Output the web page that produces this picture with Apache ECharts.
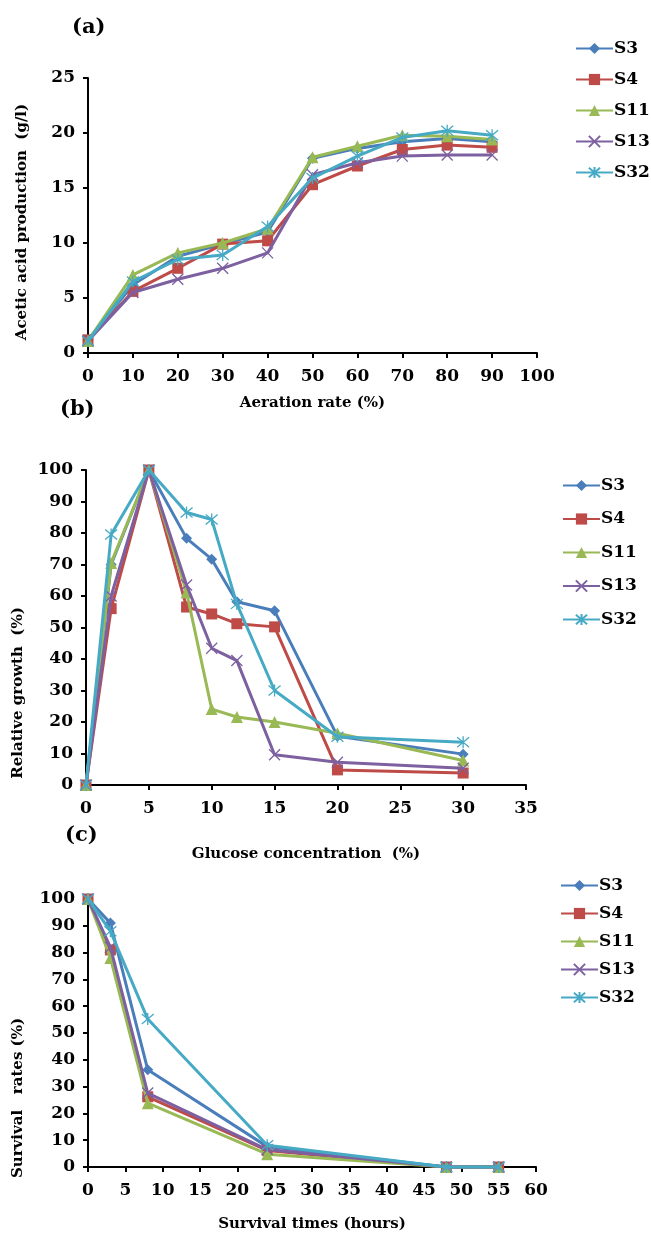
<!DOCTYPE html>
<html>
<head>
<meta charset='utf-8'>
<title>Acetic acid, glucose tolerance and survival</title>
<script src='https://cdn.jsdelivr.net/npm/echarts@6/dist/echarts.min.js'></script>
<style>
  html, body { margin: 0; padding: 0; background: #fff; }
  #chart { width: 651px; height: 1241px; }
</style>
</head>
<body>
<div id='chart'></div>
<script type='text/javascript'>
// strains and styles
const strains = ['S3', 'S4', 'S11', 'S13', 'S32']
const colors = ['#4A7EBB', '#BE4B48', '#98B954', '#7D60A0', '#46AAC5']
const symbols = ['diamond', 'rect', 'triangle',
  'path://M0,0L10,10M10,0L0,10',
  'path://M0,0L10,10M10,0L0,10M5,-1L5,11']
const symbolSizes = [11, 11, 12, 11, 12]

// (a) aeration rate vs acetic acid
const aerationRate = [0, 10, 20, 30, 40, 50, 60, 70, 80, 90]
const aceticS3 = [1.2, 6.2, 8.8, 9.9, 11.0, 17.7, 18.6, 19.2, 19.5, 19.2]
const aceticS4 = [1.2, 5.6, 7.7, 9.9, 10.2, 15.3, 17.0, 18.5, 18.9, 18.7]
const aceticS11 = [1.1, 7.1, 9.1, 10.0, 11.3, 17.8, 18.8, 19.8, 19.7, 19.4]
const aceticS13 = [1.1, 5.5, 6.7, 7.7, 9.1, 16.2, 17.3, 17.9, 18.0, 18.0]
const aceticS32 = [1.1, 6.5, 8.5, 8.9, 11.5, 15.9, 17.9, 19.6, 20.2, 19.8]

// (b) glucose concentration vs relative growth
const glucose = [0, 2, 5, 8, 10, 12, 15, 20, 30]
const growthS3 = [0, 70, 100, 78.3, 71.7, 58.2, 55.3, 15.5, 9.8]
const growthS4 = [0, 56, 100, 56.5, 54.3, 51.2, 50.2, 4.8, 3.8]
const growthS11 = [0, 70.5, 100, 61.2, 24.1, 21.6, 20.0, 16.4, 7.8]
const growthS13 = [0, 60, 100, 63.5, 43.4, 39.5, 9.6, 7.2, 5.3]
const growthS32 = [0, 79.5, 100, 86.5, 84.3, 57.5, 30.0, 15.3, 13.6]

// (c) survival time vs survival rate
const survivalTime = [0, 3, 8, 24, 48, 55]
const survivalS3 = [100, 91, 36.3, 7.6, 0, 0]
const survivalS4 = [100, 81, 26.2, 6.2, 0, 0]
const survivalS11 = [100, 78, 23.8, 4.8, 0, 0]
const survivalS13 = [100, 82, 27.6, 6.5, 0, 0]
const survivalS32 = [100, 88, 55.2, 8.1, 0, 0]

const panels = [
  { x: aerationRate, ys: [aceticS3, aceticS4, aceticS11, aceticS13, aceticS32] },
  { x: glucose, ys: [growthS3, growthS4, growthS11, growthS13, growthS32] },
  { x: survivalTime, ys: [survivalS3, survivalS4, survivalS11, survivalS13, survivalS32] }
]

const font = 'DejaVu Serif'
const tickText = { fontFamily: font, fontWeight: 'bold', fontSize: 17, color: '#000' }
const nameText = { fontFamily: font, fontWeight: 'bold', fontSize: 15, color: '#000' }
const axisLine = { show: true, lineStyle: { color: '#000', width: 2 } }
const axisTick = { show: true, inside: false, length: 5, lineStyle: { color: '#000', width: 2 } }

const makeX = (gridIndex, max, interval, name, nameGap) => ({
  gridIndex, type: 'value', min: 0, max, interval,
  name, nameLocation: 'middle', nameGap, nameTextStyle: nameText,
  axisLine, axisTick, axisLabel: Object.assign({ margin: 15 }, tickText),
  splitLine: { show: false }
})
const makeY = (gridIndex, max, interval) => ({
  gridIndex, type: 'value', min: 0, max, interval,
  axisLine, axisTick, axisLabel: Object.assign({ margin: 13 }, tickText),
  splitLine: { show: false }
})

const series = []
panels.forEach((p, pi) => {
  p.ys.forEach((ys, si) => {
    const isCross = si >= 3
    series.push({
      name: strains[si],
      type: 'line',
      xAxisIndex: pi,
      yAxisIndex: pi,
      data: p.x.map((x, i) => [x, ys[i]]),
      symbol: symbols[si],
      symbolSize: symbolSizes[si],
      showAllSymbol: true,
      clip: false,
      lineStyle: { color: colors[si], width: 3 },
      itemStyle: isCross
        ? { color: colors[si], borderColor: colors[si], borderWidth: 1.3 }
        : { color: colors[si] },
      emphasis: { disabled: true },
      z: 2 + si
    })
  })
})

const makeLegend = (left, top, gap) => ({
  data: strains,
  orient: 'vertical',
  left, top,
  itemWidth: 37,
  itemHeight: 14,
  itemGap: gap,
  selectedMode: false,
  textStyle: { fontFamily: font, fontWeight: 'bold', fontSize: 17, color: '#000', padding: [0, 0, 0, -4] }
})

const yTitle = (x, y, text) => ({
  type: 'text',
  x, y,
  rotation: Math.PI / 2,
  style: { text, font: 'bold 15px "DejaVu Serif"', fill: '#000', textAlign: 'center', textVerticalAlign: 'middle' }
})
const panelLabel = (x, y, text) => ({
  type: 'text',
  x, y,
  style: { text, font: 'bold 21px "DejaVu Serif"', fill: '#000', textAlign: 'left', textVerticalAlign: 'middle' }
})

const chart = echarts.init(document.getElementById('chart'))
chart.setOption({
  backgroundColor: '#fff',
  animation: false,
  grid: [
    { left: 88, top: 78, width: 449, height: 275 },
    { left: 86, top: 470, width: 440, height: 315 },
    { left: 88, top: 899, width: 448, height: 268 }
  ],
  xAxis: [
    makeX(0, 100, 10, 'Aeration rate (%)', 43),
    makeX(1, 35, 5, 'Glucose concentration  (%)', 62),
    makeX(2, 60, 5, 'Survival times (hours)', 50)
  ],
  yAxis: [
    makeY(0, 25, 5),
    makeY(1, 100, 10),
    makeY(2, 100, 10)
  ],
  legend: [
    makeLegend(570, 35, 14),
    makeLegend(557, 472, 16.5),
    makeLegend(555, 872, 11)
  ],
  graphic: [
    panelLabel(72, 28, '(a)'),
    panelLabel(60, 410, '(b)'),
    panelLabel(65, 836, '(c)'),
    yTitle(22, 222, 'Acetic acid production  (g/l)'),
    yTitle(18, 693, 'Relative growth  (%)'),
    yTitle(18, 1098, 'Survival   rates (%)')
  ],
  series
})
</script>
</body>
</html>
